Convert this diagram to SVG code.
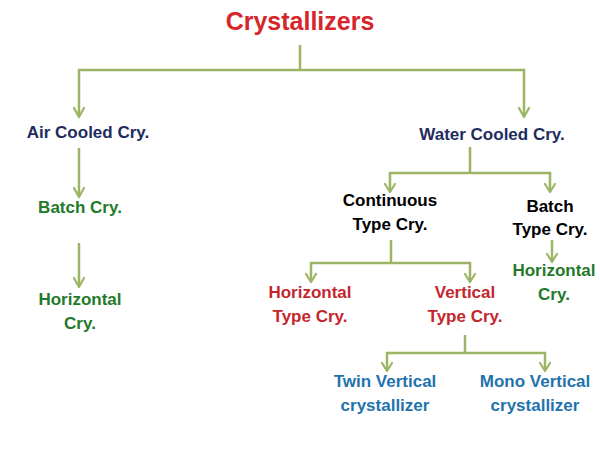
<svg xmlns="http://www.w3.org/2000/svg" width="600" height="450" viewBox="0 0 600 450">
<defs>
<style>
.c{fill:none;stroke:#9bb565;stroke-width:2.5;stroke-linejoin:miter}
.h{fill:none;stroke:#9bb565;stroke-width:2.2;stroke-linecap:round;stroke-linejoin:round}
text{font-family:"Liberation Sans",Arial,sans-serif;font-weight:bold;font-size:17px;text-anchor:middle}
.t{font-size:25px;fill:#d7262b}
.nv{fill:#1e2c5e}
.gr{fill:#1f7a2a}
.rd{fill:#c4262e}
.bk{fill:#000}
.bl{fill:#1f73ad}
</style>
</defs>
<rect width="600" height="450" fill="#fff"/>
<g id="connectors">
<path class="c" d="M300,45V70M79,116V70H524V116"/>
<path class="h" d="M74,108L79,117L84,108M519,108L524,117L529,108"/>
<path class="c" d="M79,148V196"/>
<path class="h" d="M74,188L79,197L84,188"/>
<path class="c" d="M79,243V286"/>
<path class="h" d="M74,278L79,287L84,278"/>
<path class="c" d="M470,147V173M390,191V173H550V191"/>
<path class="h" d="M385,184L390,192L395,184M545,184L550,192L555,184"/>
<path class="c" d="M391,240V263M311,281V263H470V281"/>
<path class="h" d="M306,274L311,282L316,274M465,274L470,282L475,274"/>
<path class="c" d="M552,240V261"/>
<path class="h" d="M547,254L552,262L557,254"/>
<path class="c" d="M465,335V353M387,370V353H545V370"/>
<path class="h" d="M382,363L387,371L392,363M540,363L545,371L550,363"/>
</g>
<g id="crystallizers"><text class="t" x="300" y="30">Crystallizers</text></g>
<g id="air-cooled"><text class="nv" x="88" y="138">Air Cooled Cry.</text></g>
<g id="water-cooled"><text class="nv" x="492" y="140">Water Cooled Cry.</text></g>
<g id="batch-cry"><text class="gr" x="80" y="213">Batch Cry.</text></g>
<g id="horizontal-cry-left"><text class="gr" x="80" y="305">Horizontal</text><text class="gr" x="80" y="329">Cry.</text></g>
<g id="continuous"><text class="bk" x="390" y="206">Continuous</text><text class="bk" x="390" y="230">Type Cry.</text></g>
<g id="batch-type"><text class="bk" x="550" y="212">Batch</text><text class="bk" x="550" y="235">Type Cry.</text></g>
<g id="horizontal-cry-right"><text class="gr" x="554" y="276">Horizontal</text><text class="gr" x="554" y="300">Cry.</text></g>
<g id="horizontal-type"><text class="rd" x="310" y="298">Horizontal</text><text class="rd" x="310" y="322">Type Cry.</text></g>
<g id="vertical-type"><text class="rd" x="465" y="298">Vertical</text><text class="rd" x="465" y="322">Type Cry.</text></g>
<g id="twin-vertical"><text class="bl" x="385" y="387">Twin Vertical</text><text class="bl" x="385" y="411">crystallizer</text></g>
<g id="mono-vertical"><text class="bl" x="535" y="387">Mono Vertical</text><text class="bl" x="535" y="411">crystallizer</text></g>
</svg>
